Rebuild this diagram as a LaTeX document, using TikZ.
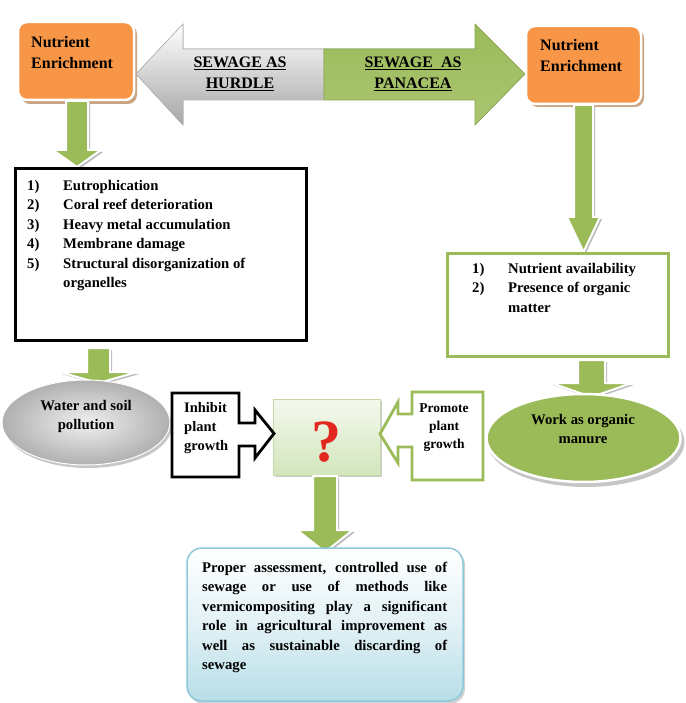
\documentclass[tikz,border=0pt]{standalone}
\usepackage{fontspec}
\setmainfont{Liberation Serif}
\usetikzlibrary{shapes.geometric}
\definecolor{org}{HTML}{F79646}
\definecolor{orgshd}{HTML}{C9A583}
\definecolor{grn}{HTML}{9BBB59}
\definecolor{grndk}{HTML}{86A84A}
\definecolor{qtop}{HTML}{F4F9EE}
\definecolor{qbot}{HTML}{D3E5BC}
\definecolor{qline}{HTML}{C4D9A5}
\definecolor{bluline}{HTML}{8CC8DA}
\definecolor{blubot}{HTML}{B7DEE8}
\definecolor{blumid}{HTML}{E2F1F5}
\definecolor{qred}{HTML}{E2281E}
\newcommand{\dnarrow}[6]{%
  \fill[gray!55, shift={(2,2)}] ({#1-#2},#4) -- ({#1+#2},#4) -- ({#1+#2},#5) -- ({#1+#3},#5) -- (#1,#6) -- ({#1-#3},#5) -- ({#1-#2},#5) -- cycle;
  \filldraw[fill=grn, draw=white, line width=2pt, line join=miter] ({#1-#2},#4) -- ({#1+#2},#4) -- ({#1+#2},#5) -- ({#1+#3},#5) -- (#1,#6) -- ({#1-#3},#5) -- ({#1-#2},#5) -- cycle;}
\tikzset{
  big/.style={font=\bfseries\fontsize{16}{21}\selectfont, inner sep=0pt},
  txt/.style={font=\bfseries\fontsize{14.7}{19.5}\selectfont, inner sep=0pt},
  sml/.style={font=\bfseries\fontsize{13.5}{18}\selectfont, inner sep=0pt},
  obox/.style={fill=org, draw=white, line width=2.5pt, rounded corners=9pt},
  oshd/.style={fill=orgshd, rounded corners=9pt},
}
\begin{document}
\begin{tikzpicture}[x=1pt,y=-1pt]
\useasboundingbox (0,0) rectangle (685,703);

% orange boxes
\fill[oshd] (21,25) rectangle (137,104);
\filldraw[obox] (18,22) rectangle (134,100);
\fill[oshd] (529,29) rectangle (644,107);
\filldraw[obox] (526,26) rectangle (641,104);
\node[big, anchor=north west, align=left] (neL) at (31,32.3) {\strut Nutrient\\\strut Enrichment};
\node[big, anchor=north west, align=left] (neR) at (540,35.3) {\strut Nutrient\\\strut Enrichment};

% double arrow
\filldraw[top color=white, bottom color=gray!70, draw=gray!60, line width=0.6pt]
  (136,74) -- (183,24) -- (183,49) -- (324,49) -- (324,100) -- (183,100) -- (183,125) -- cycle;
\filldraw[top color=grn, bottom color=grn!85!white, draw=grndk, line width=0.6pt]
  (324,49) -- (475,49) -- (475,24) -- (525,74) -- (475,125) -- (475,100) -- (324,100) -- cycle;
\node[big, anchor=north, align=center] (hurdle) at (240,52.8) {\strut\underline{SEWAGE AS}\\\strut\underline{HURDLE}};
\node[big, anchor=north, align=center] (panacea) at (413,52.8) {\strut\underline{SEWAGE\ \ AS}\\\strut\underline{PANACEA}};

% down arrows from orange boxes
\dnarrow{77}{11}{24}{101}{150}{167}
\dnarrow{583.5}{9.5}{16.5}{105}{217}{252}

% left list box
\draw[line width=3pt] (15,169) rectangle (306,340);
\node[txt, anchor=north west, align=left] (harm) at (27,176.35) {%
\strut\makebox[36pt][l]{1)}Eutrophication\\
\strut\makebox[36pt][l]{2)}Coral reef deterioration\\
\strut\makebox[36pt][l]{3)}Heavy metal accumulation\\
\strut\makebox[36pt][l]{4)}Membrane damage\\
\strut\makebox[36pt][l]{5)}Structural disorganization of\\
\strut\hspace*{36pt}organelles};

% right list box
\draw[grn, line width=3pt] (447,253) rectangle (668,356);
\node[txt, anchor=north west, align=left] (good) at (472,259.35) {%
\strut\makebox[36pt][l]{1)}Nutrient availability\\
\strut\makebox[36pt][l]{2)}Presence of organic\\
\strut\hspace*{36pt}matter};

% arrows to ellipses
\dnarrow{98.5}{11.5}{39}{348}{372}{383}
\dnarrow{591.5}{13.5}{40.5}{360}{383}{397}

% water ellipse
\fill[gray!45] (88,425.5) ellipse [x radius=84, y radius=42.5];
\filldraw[inner color=gray!12, outer color=gray!62, draw=white, line width=1pt] (86,422.5) ellipse [x radius=84, y radius=42.5];
\node[txt, anchor=north, align=center] (water) at (86,396.35) {\strut Water and soil\\\strut pollution};

% manure ellipse
\fill[gray!45] (586,442) ellipse [x radius=98.5, y radius=45];
\filldraw[fill=grn, draw=white, line width=2.5pt] (583.5,438) ellipse [x radius=97, y radius=44];
\node[txt, anchor=north, align=center] (manure) at (583,410.35) {\strut Work as organic\\\strut manure};

% question box
\fill[gray!40] (275,401) rectangle (382,477);
\filldraw[top color=qtop, bottom color=qbot, draw=qline, line width=0.8pt] (273,399) rectangle (380,475);
\node[font=\bfseries\fontsize{60}{60}\selectfont, text=qred, inner sep=0pt] (q) at (326.5,442) {?};

% inhibit arrow
\draw[line width=2.8pt, fill=white, line join=miter]
  (172,393) -- (239,393) -- (239,423) -- (255,423) -- (255,410) -- (274,433.5) -- (255,458) -- (255,446) -- (239,446) -- (239,477) -- (172,477) -- cycle;
\node[txt, anchor=north west, align=left, font=\bfseries\fontsize{14.5}{19}\selectfont] (inhibit) at (184,398.7) {\strut Inhibit\\\strut plant\\\strut growth};

% promote arrow
\draw[grn, line width=2.8pt, fill=white, line join=miter]
  (483,392) -- (483,480) -- (412,480) -- (412,447) -- (398,447) -- (398,463) -- (380,434) -- (398,402) -- (398,414) -- (412,414) -- (412,392) -- cycle;
\node[sml, anchor=north, align=center] (promote) at (444,399.9) {\strut Promote\\\strut plant\\\strut growth};

% arrow to conclusion
\dnarrow{325}{12}{28}{476}{530}{552}

% conclusion box
\fill[gray!35, rounded corners=15pt] (189,550) rectangle (465,704);
\filldraw[top color=white, bottom color=blubot, middle color=blumid, draw=bluline, line width=1.5pt, rounded corners=15pt] (187,548) rectangle (463,701);
\node[txt, anchor=north west, text width=245pt, align=justify] (concl) at (202,558.35) {%
\hyphenpenalty=10000\exhyphenpenalty=10000\tolerance=10000
\strut Proper assessment, controlled use of\linebreak
sewage or use of methods like\linebreak
vermicompositing play a significant\linebreak
role in agricultural improvement as\linebreak
well as sustainable discarding of\linebreak
sewage};
\end{tikzpicture}
\end{document}
